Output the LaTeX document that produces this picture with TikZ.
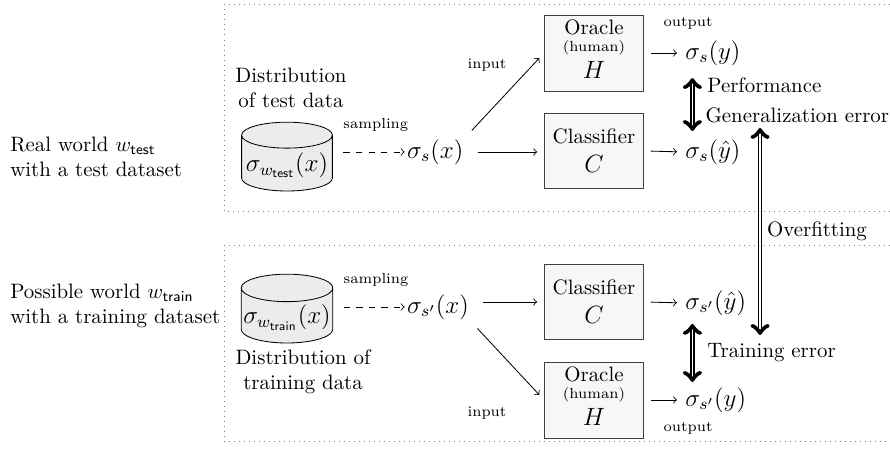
\documentclass[tikz,border=0pt]{standalone}
\usepackage{amsmath}
\usepackage{tikz}
\usetikzlibrary{shapes.geometric,positioning}

\begin{document}
\begin{tikzpicture}[
   box/.style={rectangle,draw=black!75,fill=gray!6,inner sep=1pt,minimum width=1.67cm,minimum height=1.28cm,align=center},
   db/.style={cylinder,shape border rotate=90,draw,fill=gray!15,aspect=0.3,inner sep=1pt,minimum width=1.53cm,minimum height=1.16cm,font=\large},
   small/.style={font=\scriptsize},
   sig/.style={inner sep=1pt,font=\large},
   lbl/.style={inner sep=1pt,anchor=west},
   dbl/.style={double,thick,<->}]
   \useasboundingbox (0,0) rectangle (15,7.685);
   % Regions (open to the right)
   \draw[gray,dotted] (15,7.618) -| (3.79,4.121) -- (15,4.121);
   \draw[gray,dotted] (15,3.556) -| (3.79,0.244) -- (15,0.244);
   % Real world (top)
   \node[align=left,anchor=west] (worldA) at (0.05,5.039) {Real world $w_{\mathsf{test}}$\\with a test dataset};
   \node[align=center] (distA) at (4.904,6.202) {Distribution\\of test data};
   \node[db] (cylA) at (4.837,4.9) {$\sigma_{w_{\mathsf{test}}}(x)$};
   \node[sig,anchor=west] (inA) at (6.82,5.124) {$\sigma_s(x)$};
   \node[box] (oracleA) at (10.011,6.792) {Oracle\\[-4pt]{\scriptsize (human)}\\[1pt]{\large $H$}\rule[-3.5pt]{0pt}{0pt}};
   \node[box] (clsA) at (10.011,5.141) {Classifier\\[2pt]{\large $C$}};
   \node[sig,anchor=west] (outA) at (11.51,6.792) {$\sigma_s(y)$};
   \node[sig,anchor=west] (outB) at (11.51,5.124) {$\sigma_s(\hat{y})$};
   \node[small] (inLblA) at (8.208,6.590) {input};
   \node[small] (outLblA) at (11.596,7.298) {output};
   \draw[->,dashed,shorten <=0.18cm] (cylA.east |- inA) -- (inA.west)
      node[small,midway,above=2.2mm,xshift=0.12cm] (sampA) {sampling};
   \draw[->,shorten <=0.2cm,shorten >=3.3pt] (inA.east) -- (inA.east -| clsA.west);
   \draw[->,shorten <=1.5mm,shorten >=3.3pt] (inA.north east) -- (oracleA.west);
   \draw[->,shorten <=3.3pt,shorten >=0.1cm] (oracleA.east) -- (outA.west);
   \draw[->,shorten <=3.3pt,shorten >=0.1cm] (clsA.east) -- (outB.west);
   \draw[dbl] ([xshift=0.16cm,yshift=-0.17cm]outA.south west) -- ([xshift=0.16cm,yshift=0.1cm]outB.north west);
   \node[lbl] (perf) at (11.88,6.253) {Performance};
   \node[lbl] (gen) at (11.85,5.747) {Generalization error};
   % Possible world (bottom)
   \node[align=left,anchor=west] (worldB) at (0.05,2.528) {Possible world $w_{\mathsf{train}}$\\with a training dataset};
   \node[align=center] (distB) at (5.107,1.416) {Distribution of\\training data};
   \node[db] (cylB) at (4.837,2.33) {$\sigma_{w_{\mathsf{train}}}(x)$};
   \node[sig,anchor=west] (inB) at (6.82,2.511) {$\sigma_{s'}(x)$};
   \node[box] (clsB) at (10.011,2.596) {Classifier\\[2pt]{\large $C$}};
   \node[box] (oracleB) at (10.011,0.944) {Oracle\\[-4pt]{\scriptsize (human)}\\[1pt]{\large $H$}\rule[-3.5pt]{0pt}{0pt}};
   \node[sig,anchor=west] (outC) at (11.51,2.579) {$\sigma_{s'}(\hat{y})$};
   \node[sig,anchor=west] (outD) at (11.51,0.944) {$\sigma_{s'}(y)$};
   \node[small] (inLblB) at (8.208,0.725) {input};
   \node[small] (outLblB) at (11.596,0.472) {output};
   \draw[->,dashed,shorten <=0.18cm] (cylB.east |- inB) -- (inB.west)
      node[small,midway,above=2.2mm,xshift=0.12cm] (sampB) {sampling};
   \draw[->,shorten <=0.2cm,shorten >=3.3pt] (inB.east |- clsB) -- (clsB.west);
   \draw[->,shorten <=1.5mm,shorten >=3.3pt] (inB.south east) -- (oracleB.west);
   \draw[->,shorten <=3.3pt,shorten >=0.1cm] (clsB.east) -- (outC.west);
   \draw[->,shorten <=3.3pt,shorten >=0.1cm] (oracleB.east) -- (outD.west);
   \draw[dbl] ([xshift=0.16cm,yshift=-0.1cm]outC.south west) -- ([xshift=0.16cm,yshift=0.05cm]outD.north west);
   \node[lbl] (train) at (11.88,1.736) {Training error};
   % Overfitting
   \coordinate (ovTop) at (12.81,5.528);
   \coordinate (ovBot) at (12.81,2.039);
   \draw[dbl] (ovTop) -- (ovBot) node[midway,right,inner sep=1pt,xshift=2pt] (over) {Overfitting};
\end{tikzpicture}
\end{document}
